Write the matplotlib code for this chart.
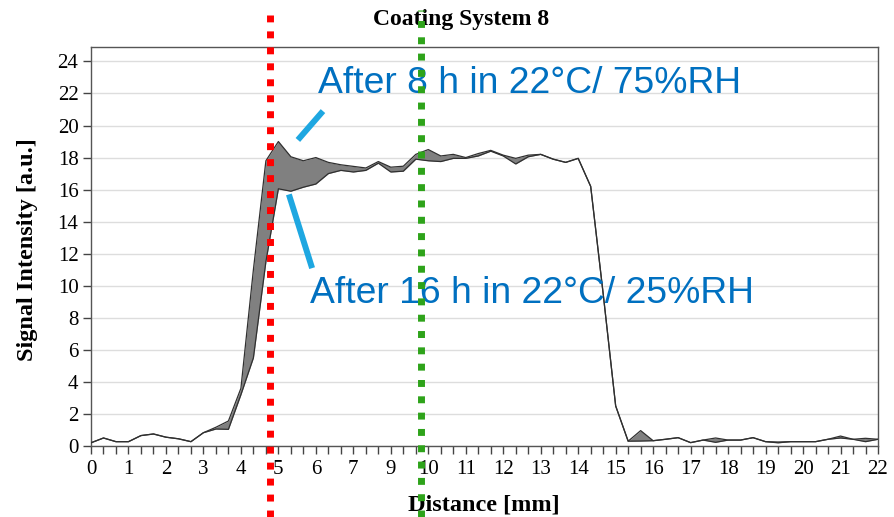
import matplotlib
matplotlib.use('Agg')
import matplotlib.pyplot as plt
from matplotlib.lines import Line2D
import numpy as np

# signal profiles, sampled every 1/3 of a tick interval
after_8h = [0.2, 0.5, 0.27, 0.27, 0.65, 0.75, 0.55, 0.45, 0.27, 0.83,
            1.17, 1.56, 3.6, 11.0, 17.8, 19.0, 18.05, 17.8, 18.0, 17.7,
            17.55, 17.45, 17.35, 17.75, 17.4, 17.46, 18.2, 18.5, 18.1, 18.2,
            18.0, 18.25, 18.45, 18.15, 17.95, 18.15, 18.2, 17.9, 17.7, 17.95,
            16.2, 9.5, 2.5, 0.3, 0.96, 0.33, 0.42, 0.52, 0.21, 0.37,
            0.5, 0.37, 0.37, 0.52, 0.27, 0.25, 0.27, 0.27, 0.27, 0.42,
            0.62, 0.42, 0.48, 0.42]
after_16h = [0.2, 0.5, 0.27, 0.27, 0.65, 0.75, 0.55, 0.45, 0.27, 0.83,
             1.06, 1.04, 3.2, 5.5, 11.5, 16.05, 15.9, 16.15, 16.35, 17.0,
             17.2, 17.1, 17.2, 17.65, 17.1, 17.15, 17.9, 17.8, 17.75, 17.95,
             17.95, 18.1, 18.4, 18.1, 17.6, 18.05, 18.2, 17.9, 17.7, 17.95,
             16.2, 9.5, 2.5, 0.3, 0.31, 0.33, 0.42, 0.52, 0.21, 0.37,
             0.23, 0.37, 0.37, 0.52, 0.27, 0.2, 0.27, 0.27, 0.27, 0.42,
             0.5, 0.42, 0.27, 0.42]
# the original axis skips "8"
tick_labels = ['0', '1', '2', '3', '4', '5', '6', '7', '9', '10', '11',
               '12', '13', '14', '15', '16', '17', '18', '19', '20', '21', '22']
y_ticks = list(range(0, 25, 2))

dist = np.arange(len(after_8h)) / 3.0

serif = 'Liberation Serif'
sans = 'Liberation Sans'
blue_txt = '#0070c0'
blue_line = '#1ea7e1'

fig = plt.figure(figsize=(8.95, 5.17), dpi=100)
ax = fig.add_axes([91 / 895, 71 / 517, 787 / 895, 399 / 517])

ax.fill_between(dist, after_16h, after_8h, color='#808080', lw=0, zorder=2)
ax.plot(dist, after_8h, color='#303030', lw=0.9, zorder=3)
ax.plot(dist, after_16h, color='#303030', lw=0.9, zorder=3)

ax.set_xlim(0, 21)
ax.set_ylim(0, 24.9)
ax.set_xticks(range(len(tick_labels)))
ax.set_xticklabels(tick_labels)
ax.set_xticks(np.arange(0, 21.01, 1 / 3), minor=True)
ax.set_yticks(y_ticks)
ax.grid(axis='y', color='#dddddd', lw=1)
ax.set_axisbelow(True)
for s in ax.spines.values():
    s.set_color('#555555')
    s.set_linewidth(1)
ax.tick_params(which='both', direction='out', length=6, width=1, color='#444444')
ax.tick_params(axis='x', pad=4)
ax.tick_params(axis='y', pad=3)
for lab in ax.get_xticklabels() + ax.get_yticklabels():
    lab.set_family(serif)
    lab.set_fontsize(15)

fig.text(461 / 895, 1 - 19 / 517, 'Coating System 8', family=serif,
         fontweight='bold', fontsize=17, ha='center', va='center')
fig.text(484 / 895, 1 - 505 / 517, 'Distance [mm]', family=serif,
         fontweight='bold', fontsize=17.5, ha='center', va='center')
fig.text(28 / 895, 1 - 250 / 517, 'Signal Intensity [a.u.]', family=serif,
         fontweight='bold', fontsize=17.5, ha='center', va='center', rotation=90)

# callouts
ax.text(6.06, 22.06, 'After 8 h in 22°C/ 75%RH', family=sans, fontsize=26.8,
        color=blue_txt, va='baseline', ha='left', zorder=5)
ax.text(5.84, 8.94, 'After 16 h in 22°C/ 25%RH', family=sans, fontsize=26.8,
        color=blue_txt, va='baseline', ha='left', zorder=5)
ax.plot([5.52, 6.19], [19.1, 20.9], color=blue_line, lw=4.3,
        solid_capstyle='butt', zorder=6, clip_on=False)
ax.plot([5.28, 5.9], [15.7, 11.1], color=blue_line, lw=4.3,
        solid_capstyle='butt', zorder=6, clip_on=False)

# dotted markers over everything
fig.add_artist(Line2D([270 / 895, 270 / 895], [0, 1 - 15 / 517], color='#ff0000',
                      lw=5, linestyle=(0, (1.0, 1.3)), zorder=10))
fig.add_artist(Line2D([421 / 895, 421 / 895], [0, 1 - 10 / 517], color='#2ea31a',
                      lw=5, linestyle=(0, (1.0, 1.35)), zorder=10))

fig.savefig('out.png', dpi=100)
